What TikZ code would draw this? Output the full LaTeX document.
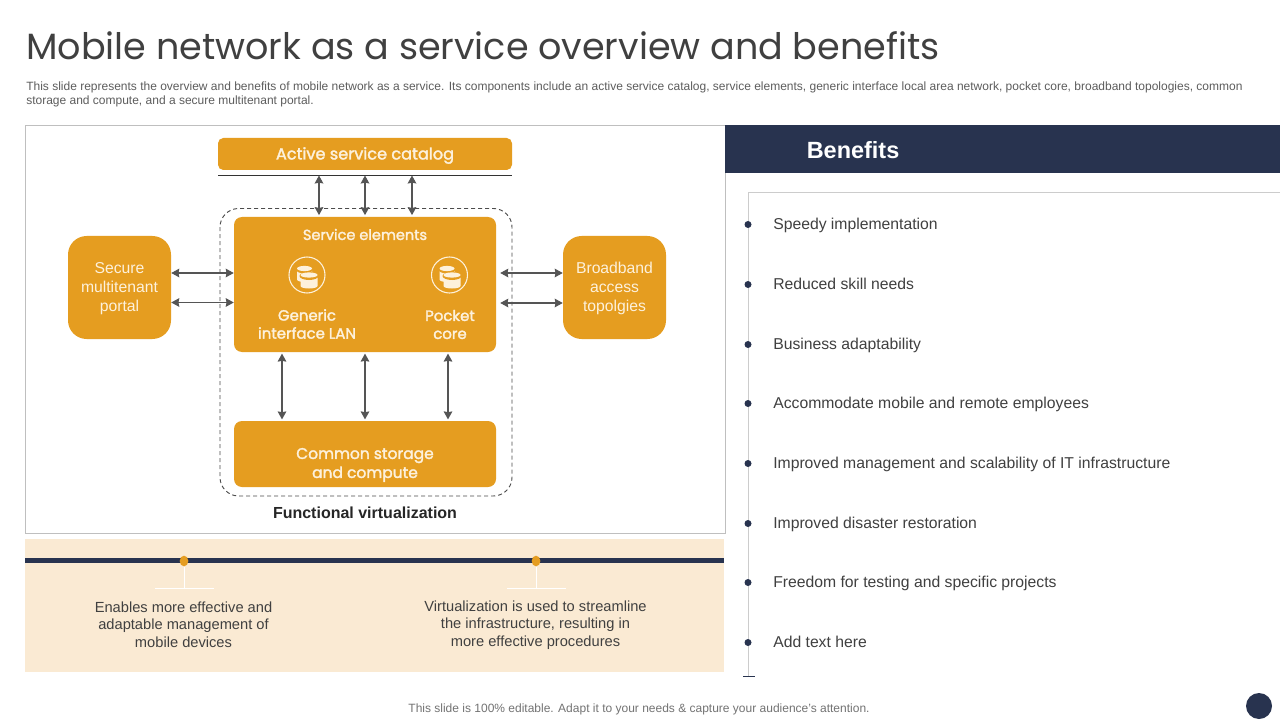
\documentclass[tikz,border=0pt]{standalone}
\usepackage{fontspec}
\setmainfont{Liberation Sans}
\newfontfamily\gothic{Poppins}
\newfontfamily\gothicb{Poppins}[FakeBold=2]
\usetikzlibrary{arrows.meta,shapes.geometric}
\definecolor{navy}{HTML}{28334F}
\definecolor{amber}{HTML}{E59D20}
\definecolor{beige}{HTML}{FAEAD3}
\definecolor{ink}{HTML}{404040}
\definecolor{cream}{HTML}{FDF1DC}
\definecolor{arrowgrey}{HTML}{555555}
\tikzset{
  x=0.75pt,y=-0.75pt,
  panel/.style={draw=#1,line width=0.75pt},
  amberbox/.style={fill=amber,draw=none,rounded corners=#1,inner sep=0pt},
  arr/.style={draw=arrowgrey,line width=0.8pt,{Stealth[length=6pt,width=6.5pt,inset=0.6pt]}-{Stealth[length=6pt,width=6.5pt,inset=0.6pt]}},
  boxtext/.style={text=cream,align=center,inner sep=0pt},
  sidetext/.style={text=cream,align=center,font=\fontsize{11.8}{14.25}\selectfont,inner sep=0pt},
  benefit/.style={anchor=base west,text=ink,font=\fontsize{11.8}{14}\selectfont,inner sep=0pt},
  bullet/.style={circle,fill=navy,minimum size=5.25pt,inner sep=0pt},
  note/.style={text=ink,align=center,font=\fontsize{11}{13.1}\selectfont,inner sep=0pt},
  pin/.style={ellipse,fill=amber,inner sep=0pt,minimum width=6.5pt,minimum height=8pt},
  dbicon/.style={circle,draw=cream,line width=0.8pt,minimum size=27pt,inner sep=0pt},
}
\newcommand{\dbcyl}[3]{% x, y, width
  \fill[cream] (#1-#3/2,#2) -- (#1-#3/2,#2+11) arc[start angle=180,end angle=0,x radius=#3/2,y radius=2.5] -- (#1+#3/2,#2) -- cycle;
  \fill[amber] (#1,#2+1) ellipse[x radius=#3/2+1,y radius=4];
  \fill[cream] (#1,#2) ellipse[x radius=#3/2,y radius=2.6];
}
\begin{document}
\begin{tikzpicture}
\useasboundingbox (0,0) rectangle (1280,720);
\fill[white] (0,0) rectangle (1280,720);
% title
\node[anchor=west,text=ink,inner sep=0pt,font=\gothic\fontsize{27.4}{33}\selectfont] (title) at (26,46) {Mobile network as a service overview and benefits};
\node[anchor=north west,text=ink!85,align=left,inner sep=0pt,font=\fontsize{9}{10.8}\selectfont] (intro) at (26,81.5) {This slide represents the overview and benefits of mobile network as a service. Its components include an active service catalog, service elements, generic interface local area network, pocket core, broadband topologies, common\\storage and compute, and a secure multitenant portal.};
% left panel
\draw[panel=black!25] (25,125.5) rectangle (725,533.5);
\node[amberbox=4pt,minimum width=220.5pt,minimum height=24pt] (catalog) at (365,154) {};
\node[boxtext,font=\gothicb\fontsize{12.1}{14}\selectfont] (catlabel) at (365,155.5) {Active service catalog};
\node[minimum width=220.5pt,minimum height=0pt,inner sep=0pt,outer sep=0pt,draw=none] (rule) at (365,175.5) {};
\draw[black!80,line width=0.75pt] (rule.west) -- (rule.east);
\draw[draw=arrowgrey!90!black,line width=0.7pt,dash pattern=on 3pt off 2.25pt,rounded corners=14pt] (220,208.5) rectangle (512,496);
\node[amberbox=6pt,minimum width=196.5pt,minimum height=101.25pt] (svc) at (365,284.5) {};
\node[boxtext,font=\gothicb\fontsize{10.9}{13}\selectfont] (svclabel) at (365,234.5) {Service elements};
\node[dbicon] (ic1) at (307,275) {};
\node[dbicon] (ic2) at (449.5,275) {};
\dbcyl{304.5}{268.5}{15}
\dbcyl{309}{275}{17}
\dbcyl{447}{268.5}{15}
\dbcyl{452}{275}{17}
\node[boxtext,font=\gothicb\fontsize{11.2}{13.5}\selectfont] (gen) at (307,324) {Generic\\interface LAN};
\node[boxtext,font=\gothicb\fontsize{11.2}{13.5}\selectfont] (pocket) at (450,324.5) {Pocket\\core};
\node[amberbox=6pt,minimum width=196.5pt,minimum height=49.5pt] (store) at (365,454) {};
\node[boxtext,font=\gothicb\fontsize{11.6}{14.25}\selectfont] (storelabel) at (365,465) {Common storage\\and compute};
\node[amberbox=14pt,minimum width=77.25pt,minimum height=77.25pt] (secure) at (119.5,287.5) {};
\node[sidetext] (securelabel) at (119.5,288.5) {Secure\\multitenant\\portal};
\node[amberbox=14pt,minimum width=77.25pt,minimum height=77.25pt] (broad) at (614.5,287.5) {};
\node[sidetext] (broadlabel) at (614.5,288.5) {Broadband\\access\\topolgies};
\node[inner sep=0pt,text=black!85,font=\fontsize{12}{14}\selectfont\bfseries] (func) at (365,513) {Functional virtualization};
% arrows
\draw[arr] ([xshift=-34.5pt]rule.south) -- ([xshift=-34.5pt,yshift=1.2pt]svc.north);
\draw[arr] (rule.south) -- ([yshift=1.2pt]svc.north);
\draw[arr] ([xshift=35.25pt]rule.south) -- ([xshift=35.25pt,yshift=1.2pt]svc.north);
\draw[arr] ([xshift=-62.25pt,yshift=-1pt]svc.south) -- ([xshift=-62.25pt,yshift=1pt]store.north);
\draw[arr] ([yshift=-1pt]svc.south) -- ([yshift=1pt]store.north);
\draw[arr] ([xshift=62.25pt,yshift=-1pt]svc.south) -- ([xshift=62.25pt,yshift=1pt]store.north);
\draw[arr] ([yshift=10.875pt]secure.east) -- ([yshift=10.875pt]secure.east -| svc.west);
\draw[arr] ([yshift=-11.25pt]secure.east) -- ([yshift=-11.25pt]secure.east -| svc.west);
\draw[arr] ([yshift=10.875pt,xshift=3pt]svc.east |- broad.west) -- ([yshift=10.875pt]broad.west);
\draw[arr] ([yshift=-11.625pt,xshift=3pt]svc.east |- broad.west) -- ([yshift=-11.625pt]broad.west);
% beige band
\fill[beige] (25,539) rectangle (724,672);
\node[minimum width=0pt,inner sep=0pt] (bandl) at (25,560.5) {};
\node[minimum width=0pt,inner sep=0pt] (bandr) at (724,560.5) {};
\draw[navy,line width=3.9pt] (bandl) -- (bandr);
\coordinate (s1) at (184,588);
\coordinate (s2) at (536,588);
\node[pin] (p1) at (184,561) {};
\node[pin] (p2) at (536,561) {};
\draw[white,line width=0.75pt] (p1) -- (s1);
\draw[white,line width=0.75pt] (p2) -- (s2);
\draw[white,line width=0.75pt] (155,588) -- (214,588);
\draw[white,line width=0.75pt] (507,588) -- (566,588);
\node[note] (n1) at (183.5,624.5) {Enables more effective and\\adaptable management of\\mobile devices};
\node[note] (n2) at (535.5,625) {Virtualization is used to streamline\\the infrastructure, resulting in\\more effective procedures};
% benefits
\fill[navy] (725,125) rectangle (1280,173);
\node[anchor=west,inner sep=0pt,text=white,font=\fontsize{17.6}{21}\selectfont\bfseries] (benefits) at (806.5,150) {Benefits};
\draw[black!20,line width=0.75pt] (1280,192.5) -- (748.5,192.5) -- (748.5,676);
\draw[navy,line width=0.75pt] (743,676) -- (755,676);
\foreach \n/\y/\t in {a/224.5/Speedy implementation,b/284.5/Reduced skill needs,c/344.5/Business adaptability,d/403.5/Accommodate mobile and remote employees,e/463.5/Improved management and scalability of IT infrastructure,f/523.5/Improved disaster restoration,g/582.5/Freedom for testing and specific projects,h/642.5/Add text here}{
  \node[bullet] (b\n) at (748,\y) {};
  \node[benefit,yshift=-4.1pt] (t\n) at (773,\y) {\t};
}
% footer
\node[inner sep=0pt,text=black!55,font=\fontsize{9}{11}\selectfont] (foot) at (639,709) {This slide is 100\% editable. Adapt it to your needs \& capture your audience’s attention.};
\node[circle,fill=navy,minimum size=19.5pt,inner sep=0pt] (dot) at (1259,706) {};
\end{tikzpicture}
\end{document}
